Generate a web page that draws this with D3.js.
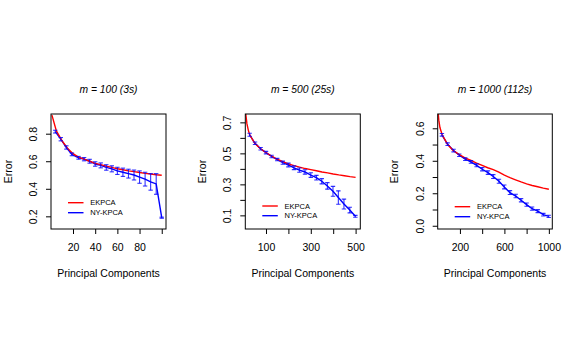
<!DOCTYPE html>
<html><head><meta charset="utf-8">
<script src="https://cdn.jsdelivr.net/npm/d3@7"></script>
<style>body{margin:0;background:#fff}svg{display:block}text{font-family:"Liberation Sans",Arial,sans-serif;fill:#000}</style>
</head><body>
<script>
// ---- data ----
const titles = ["m = 100 (3s)", "m = 500 (25s)", "m = 1000 (112s)"];
const seriesNames = ["EKPCA", "NY-KPCA"];

// panel 1 (m = 100)
const ekX1 = [1,5,10,15,20,25,30,35,40,45,50,55,60,65,70,75,80,85,90,95,100];
const ekY1 = [0.935,0.82,0.75,0.695,0.655,0.63,0.615,0.60,0.585,0.575,0.565,0.555,0.545,0.538,0.53,0.525,0.518,0.512,0.507,0.502,0.498];
const nyX1 = [4,9,14,19,25,30,35,40,45,50,55,60,65,70,75,80,85,90,95,100];
const nyY1 = [0.815,0.76,0.70,0.65,0.625,0.615,0.60,0.58,0.57,0.555,0.545,0.53,0.52,0.51,0.50,0.485,0.47,0.45,0.435,0.19];
const nyE1 = [0.01,0.012,0.012,0.01,0.01,0.012,0.014,0.016,0.018,0.02,0.022,0.026,0.03,0.032,0.036,0.045,0.05,0.06,0.075,0.004];

// panel 2 (m = 500)
const ekX2 = [1,10,15,21,27,50,75,100,125,150,175,200,225,250,275,300,325,350,375,400,425,450,475,500];
const ekY2 = [0.98,0.75,0.69,0.65,0.62,0.565,0.53,0.505,0.482,0.462,0.447,0.432,0.421,0.411,0.402,0.395,0.388,0.38,0.374,0.367,0.361,0.356,0.35,0.345];
const nyX2 = [27,51,76,100,125,150,175,200,225,249,274,300,325,349,374,399,423,448,474,499];
const nyY2 = [0.62,0.565,0.53,0.505,0.48,0.46,0.44,0.425,0.407,0.392,0.38,0.36,0.343,0.32,0.29,0.255,0.215,0.173,0.134,0.094];
const nyE2 = [0.01,0.008,0.008,0.008,0.008,0.008,0.01,0.012,0.012,0.014,0.014,0.015,0.015,0.017,0.021,0.032,0.043,0.032,0.018,0.006];

// panel 3 (m = 1000)
const ekX3 = [1,5,10,20,40,90,140,195,245,300,350,400,450,500,550,600,650,700,750,800,850,900,950,1000];
const ekY3 = [0.76,0.69,0.65,0.605,0.56,0.50,0.462,0.438,0.418,0.402,0.386,0.372,0.357,0.345,0.33,0.312,0.296,0.283,0.27,0.258,0.248,0.24,0.232,0.225];
const nyX3 = [38,89,143,194,248,299,350,401,452,500,551,599,650,702,750,800,849,900,950,999];
const nyY3 = [0.560,0.502,0.463,0.434,0.41,0.393,0.372,0.348,0.327,0.303,0.274,0.239,0.204,0.183,0.157,0.13,0.105,0.09,0.068,0.058];
const nyE3 = [0.008,0.008,0.008,0.008,0.008,0.008,0.009,0.01,0.011,0.012,0.012,0.012,0.012,0.011,0.01,0.01,0.01,0.009,0.008,0.007];

// axes
const xDomains = [[0.16,103.84],[7.6,521],[0,1031]];
const yDomains = [[0.108,0.943],[0.012,0.754],[-0.02,0.688]];
const xTicks = [[20,40,60,80,100],[100,200,300,400,500],[200,400,600,800,1000]];
const xLabels = [[20,40,60,80],[100,300,500],[200,600,1000]];
const yTicks = [[0.2,0.4,0.6,0.8],[0.1,0.2,0.3,0.4,0.5,0.6,0.7],[0,0.1,0.2,0.3,0.4,0.5,0.6]];
const yLabels = [["0.2","0.4","0.6","0.8"],["0.1","0.3","0.5","0.7"],["0.0","0.2","0.4","0.6"]];
const xTitle = "Principal Components";
const yTitle = "Error";

// ---- layout ----
const W = 580, H = 356;
const boxes = [{l:51,r:166},{l:245.3,r:360.3},{l:437.7,r:552.3}];
const plotTop = 114, plotBottom = 229;
const legendY = [[202.7,212.7],[206,215.7],[206.7,216.7]];
const colors = ["#ff0000","#0000ff"];

const svg = d3.select("body").append("svg").attr("width",W).attr("height",H);

const panels = [
  {ekX:ekX1, ekY:ekY1, nyX:nyX1, nyY:nyY1, nyE:nyE1},
  {ekX:ekX2, ekY:ekY2, nyX:nyX2, nyY:nyY2, nyE:nyE2},
  {ekX:ekX3, ekY:ekY3, nyX:nyX3, nyY:nyY3, nyE:nyE3}
];

panels.forEach((p,i)=>{
  const b = boxes[i];
  const x = d3.scaleLinear().domain(xDomains[i]).range([b.l,b.r]);
  const y = d3.scaleLinear().domain(yDomains[i]).range([plotBottom,plotTop]);
  const g = svg.append("g");

  const clipId = "clip"+i;
  g.append("clipPath").attr("id",clipId).append("rect")
    .attr("x",b.l).attr("y",plotTop).attr("width",b.r-b.l).attr("height",plotBottom-plotTop);

  const plot = g.append("g").attr("clip-path",`url(#${clipId})`);
  const line = d3.line().x(d=>x(d[0])).y(d=>y(d[1]));

  plot.append("path").datum(p.nyX.map((v,k)=>[v,p.nyY[k]]))
    .attr("d",line).attr("fill","none").attr("stroke",colors[1]).attr("stroke-width",1.4);
  plot.append("path").datum(p.ekX.map((v,k)=>[v,p.ekY[k]]))
    .attr("d",line).attr("fill","none").attr("stroke",colors[0]).attr("stroke-width",1.4);
  const eb = plot.append("g").attr("stroke",colors[1]).attr("stroke-width",1.1).attr("stroke-opacity",0.8);
  p.nyX.forEach((v,k)=>{
    const cx = x(v), y0 = y(p.nyY[k]-p.nyE[k]), y1 = y(p.nyY[k]+p.nyE[k]);
    eb.append("line").attr("x1",cx).attr("x2",cx).attr("y1",y0).attr("y2",y1);
    eb.append("line").attr("x1",cx-2.2).attr("x2",cx+2.2).attr("y1",y0).attr("y2",y0);
    eb.append("line").attr("x1",cx-2.2).attr("x2",cx+2.2).attr("y1",y1).attr("y2",y1);
  });

  g.append("rect").attr("x",b.l).attr("y",plotTop).attr("width",b.r-b.l).attr("height",plotBottom-plotTop)
    .attr("fill","none").attr("stroke","#000").attr("stroke-width",1);

  const xa = g.append("g").attr("transform",`translate(0,${plotBottom})`)
    .call(d3.axisBottom(x).tickValues(xTicks[i]).tickSize(5).tickPadding(10)
      .tickFormat(d=>xLabels[i].includes(d)?String(d):""));
  xa.select(".domain").remove();
  xa.selectAll("line").attr("stroke","#000");
  xa.selectAll("text").style("font-size","10.5px").attr("fill","#000");

  const ya = g.append("g").attr("transform",`translate(${b.l},0)`)
    .call(d3.axisLeft(y).tickValues(yTicks[i]).tickSize(5)
      .tickFormat(d=>{const s=d.toFixed(1); return yLabels[i].includes(s)?s:"";}));
  ya.select(".domain").remove();
  ya.selectAll("line").attr("stroke","#000");
  ya.selectAll("text").attr("transform","rotate(-90)").attr("x",0).attr("y",-14).attr("dy",0)
    .attr("text-anchor","middle").style("font-size","10.5px").attr("fill","#000");

  const cx = (b.l+b.r)/2;
  g.append("text").attr("x",cx).attr("y",93).attr("text-anchor","middle")
    .style("font-size","10.3px").style("font-style","italic").text(titles[i]);
  g.append("text").attr("x",cx).attr("y",277).attr("text-anchor","middle")
    .style("font-size","10.5px").text(xTitle);
  g.append("text").attr("transform",`translate(${b.l-39.5},${(plotTop+plotBottom)/2}) rotate(-90)`)
    .attr("text-anchor","middle").style("font-size","10.5px").text(yTitle);

  seriesNames.forEach((s,k)=>{
    const ly = legendY[i][k];
    g.append("line").attr("x1",b.l+17).attr("x2",b.l+32.5).attr("y1",ly).attr("y2",ly)
      .attr("stroke",colors[k]).attr("stroke-width",1.4);
    g.append("text").attr("x",b.l+39.2).attr("y",ly+2.7).style("font-size","7.5px").text(s);
  });
});
</script>
</body></html>
